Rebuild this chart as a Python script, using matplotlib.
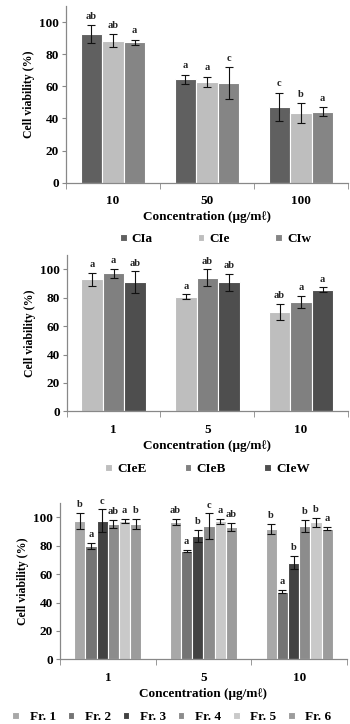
import numpy as np
import matplotlib.pyplot as plt
from matplotlib.ticker import FixedLocator

plt.rcParams['font.family'] = ['Liberation Serif', 'DejaVu Serif']
plt.rcParams['font.weight'] = 'bold'

# Panel 1: CIa / CIe / CIw
conc1 = ["10", "50", "100"]
names1 = ["CIa", "CIe", "CIw"]
colors1 = ["#606060", "#bebebe", "#858585"]
vals1 = [[92.5, 64.3, 47.3], [88.4, 62.7, 43.4], [87.3, 62.0, 44.2]]
errs1 = [[5.7, 2.9, 8.8], [4.0, 3.4, 6.1], [1.7, 10.0, 2.7]]
lets1 = [["ab", "a", "c"], ["ab", "a", "b"], ["a", "c", "a"]]

# Panel 2: CIeE / CIeB / CIeW
conc2 = ["1", "5", "10"]
names2 = ["CIeE", "CIeB", "CIeW"]
colors2 = ["#bebebe", "#808080", "#4e4e4e"]
vals2 = [[93.0, 80.8, 70.0], [97.2, 94.1, 77.2], [91.0, 90.8, 85.7]]
errs2 = [[4.6, 1.5, 5.7], [3.3, 5.8, 4.2], [7.5, 6.0, 1.5]]
lets2 = [["a", "a", "ab"], ["a", "ab", "a"], ["ab", "ab", "a"]]

# Panel 3: fractions
conc3 = ["1", "5", "10"]
names3 = ["Fr. 1", "Fr. 2", "Fr. 3", "Fr. 4", "Fr. 5", "Fr. 6"]
colors3 = ["#a8a8a8", "#747474", "#424242", "#8c8c8c", "#c9c9c9", "#9c9c9c"]
vals3 = [[97.4, 96.7, 92.0], [79.8, 76.3, 47.7], [97.4, 86.9, 68.1],
         [95.3, 93.9, 93.9], [97.4, 97.2, 96.5], [95.3, 93.2, 92.0]]
errs3 = [[5.9, 2.1, 3.5], [2.2, 0.8, 1.2], [8.1, 4.2, 4.8],
         [2.7, 8.9, 4.2], [1.6, 1.7, 3.3], [3.6, 3.0, 1.2]]
lets3 = [["b", "ab", "b"], ["a", "a", "a"], ["c", "b", "b"],
         ["ab", "c", "b"], ["a", "a", "b"], ["b", "ab", "a"]]


def panel(fig, rect, cats, names, colors, vals, errs, lets, width,
          leg_x, leg_y, colsp, txtpad):
    ax = fig.add_axes(rect)
    x = np.arange(len(cats))
    n = len(names)
    for i in range(n):
        pos = x + (i - (n - 1) / 2) * width
        ax.bar(pos, vals[i], width, color=colors[i], edgecolor="white",
               linewidth=0.8, label=names[i], zorder=2)
        ax.errorbar(pos, vals[i], yerr=errs[i], fmt="none", ecolor="#111111",
                    elinewidth=0.8, capsize=2.6, capthick=0.8, zorder=3)
        for p, v, e, t in zip(pos, vals[i], errs[i], lets[i]):
            ax.text(p, v + e + 4.0, t, ha="center", va="baseline", fontsize=7.5,
                    fontweight="bold", color="#222222")
    ax.set_xlim(-0.5, len(cats) - 0.5)
    ax.set_ylim(0, 110)
    ax.set_yticks(range(0, 101, 20))
    ax.set_xticks(x)
    ax.set_xticklabels(cats)
    ax.xaxis.set_minor_locator(FixedLocator(np.arange(-0.5, len(cats), 1.0)))
    ax.tick_params(axis="x", which="major", length=0, pad=9, labelsize=9.5)
    ax.tick_params(axis="x", which="minor", length=4, color="#888888")
    ax.tick_params(axis="y", length=3, color="#888888", labelsize=9.5, pad=2)
    for s in ["top", "right"]:
        ax.spines[s].set_visible(False)
    for s in ["left", "bottom"]:
        ax.spines[s].set_color("#888888")
        ax.spines[s].set_linewidth(0.9)
    ax.set_ylabel("Cell viability (%)", fontsize=8.5, fontweight="bold", labelpad=3)
    ax.set_xlabel("Concentration (μg/mℓ)", fontsize=9.5, fontweight="bold", labelpad=3)
    ax.legend(loc="center", bbox_to_anchor=(leg_x, leg_y), ncol=n, frameon=False,
              handlelength=0.5, handleheight=0.5, handletextpad=txtpad,
              columnspacing=colsp, borderaxespad=0, borderpad=0,
              prop={"weight": "bold", "size": 9.5})
    return ax


fig = plt.figure(figsize=(3.5, 7.24), dpi=100)

panel(fig, [66 / 350, (724 - 182.7) / 724, 282 / 350, 176.7 / 724],
      conc1, names1, colors1, vals1, errs1, lets1, 0.23, 0.53, -0.32, 3.4, 0.4)
panel(fig, [66.7 / 350, (724 - 411.3) / 724, 281.3 / 350, 156.2 / 724],
      conc2, names2, colors2, vals2, errs2, lets2, 0.23, 0.5, -0.37, 2.9, 0.4)
panel(fig, [60 / 350, (724 - 659.3) / 724, 287 / 350, 156.2 / 724],
      conc3, names3, colors3, vals3, errs3, lets3, 0.117, 0.39, -0.37, 0.9, 0.8)

fig.savefig("out.png", dpi=100)
